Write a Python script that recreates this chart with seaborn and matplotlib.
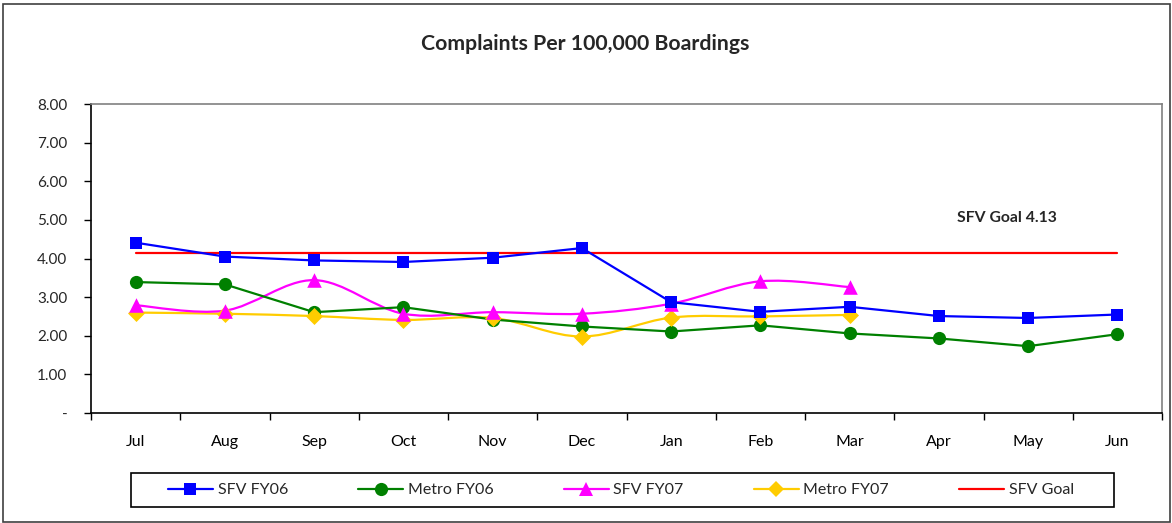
import numpy as np
import pandas as pd
import matplotlib
matplotlib.use("Agg")
import matplotlib.pyplot as plt
import seaborn as sns
from matplotlib.path import Path
from matplotlib.patches import PathPatch, Rectangle
from matplotlib.lines import Line2D

months = ["Jul", "Aug", "Sep", "Oct", "Nov", "Dec", "Jan", "Feb", "Mar", "Apr", "May", "Jun"]
sfv_fy06 = [4.41, 4.05, 3.95, 3.91, 4.02, 4.27, 2.87, 2.62, 2.75, 2.51, 2.46, 2.55]
metro_fy06 = [3.39, 3.33, 2.61, 2.74, 2.42, 2.24, 2.11, 2.27, 2.06, 1.93, 1.73, 2.04]
sfv_fy07 = [2.79, 2.65, 3.44, 2.57, 2.61, 2.57, 2.83, 3.41, 3.26]
metro_fy07 = [2.60, 2.57, 2.51, 2.41, 2.46, 1.98, 2.47, 2.50, 2.54]
sfv_goal = 4.13
yticks = [0, 1, 2, 3, 4, 5, 6, 7, 8]
ytick_labels = ["-", "1.00", "2.00", "3.00", "4.00", "5.00", "6.00", "7.00", "8.00"]
title = "Complaints Per 100,000 Boardings"
goal_label = "SFV Goal 4.13"

C_BLUE, C_GREEN, C_MAG, C_GOLD, C_RED = "#0000FF", "#008000", "#FF00FF", "#FFCC00", "#FF0000"

sns.set_theme(style="white")
plt.rcParams["font.family"] = ["Lato", "DejaVu Sans"]

W, H = 1172, 523
fig = plt.figure(figsize=(W / 100, H / 100), dpi=100)
ax = fig.add_axes([91 / W, 1 - 413 / H, (1162 - 91) / W, (413 - 104) / H])

x_idx = np.arange(len(months))
df06 = pd.DataFrame({"x": np.concatenate([x_idx, x_idx]),
                     "y": sfv_fy06 + metro_fy06,
                     "s": ["SFV FY06"] * 12 + ["Metro FY06"] * 12})
df07 = pd.DataFrame({"x": np.concatenate([x_idx[:9], x_idx[:9]]),
                     "y": sfv_fy07 + metro_fy07,
                     "s": ["SFV FY07"] * 9 + ["Metro FY07"] * 9})

# goal line
goal_df = pd.DataFrame({"x": [0, 11], "y": [sfv_goal, sfv_goal]})
sns.lineplot(data=goal_df, x="x", y="y", color=C_RED, lw=1.6, ax=ax, zorder=2)


def smooth_path(xs, ys):
    pts = np.column_stack([xs, ys]).astype(float)
    n = len(pts)
    verts = [pts[0]]
    codes = [Path.MOVETO]
    for i in range(n - 1):
        p0 = pts[i - 1] if i > 0 else pts[i]
        p1 = pts[i]
        p2 = pts[i + 1]
        p3 = pts[i + 2] if i + 2 < n else pts[i + 1]
        c1 = p1 + (p2 - p0) / 6.0
        c2 = p2 - (p3 - p1) / 6.0
        verts += [c1, c2, p2]
        codes += [Path.CURVE4] * 3
    return Path(verts, codes)


# smoothed FY07 lines
for vals, col in [(metro_fy07, C_GOLD), (sfv_fy07, C_MAG)]:
    ax.add_patch(PathPatch(smooth_path(x_idx[:len(vals)], vals), facecolor="none",
                           edgecolor=col, lw=1.6, zorder=3))

sns.lineplot(data=df06[df06.s == "Metro FY06"], x="x", y="y", color=C_GREEN, lw=1.6,
             marker="o", markersize=9.5, markeredgewidth=0, ax=ax, zorder=4)
sns.scatterplot(data=df07[df07.s == "Metro FY07"], x="x", y="y", color=C_GOLD,
                marker="D", s=75, linewidth=0, ax=ax, zorder=5)
sns.scatterplot(data=df07[df07.s == "SFV FY07"], x="x", y="y", color=C_MAG,
                marker="^", s=110, linewidth=0, ax=ax, zorder=5)
sns.lineplot(data=df06[df06.s == "SFV FY06"], x="x", y="y", color=C_BLUE, lw=1.6,
             marker="s", markersize=9, markeredgewidth=0, ax=ax, zorder=6)

ax.set_xlim(-0.5, 11.5)
ax.set_ylim(0, 8)
ax.set_xlabel("")
ax.set_ylabel("")
ax.set_xticks(x_idx)
ax.set_xticklabels(months, fontsize=11.5)
ax.set_xticks(np.arange(-0.5, 12, 1), minor=True)
ax.tick_params(axis="x", which="major", length=0, pad=16, colors="black")
ax.tick_params(axis="x", which="minor", length=5, width=1, color="black", direction="out", bottom=True)
ax.set_yticks(yticks)
ax.set_yticklabels(ytick_labels, fontsize=11)
ax.tick_params(axis="y", which="major", length=5, width=1, color="black", direction="out", left=True, pad=12)
ax.grid(False)
for side in ["left", "bottom"]:
    ax.spines[side].set_color("black")
    ax.spines[side].set_linewidth(1.2)
for side in ["top", "right"]:
    ax.spines[side].set_color("#808080")
    ax.spines[side].set_linewidth(1.2)

ax.text(9.76, 5.06, goal_label, fontsize=11.3, fontweight="bold", ha="center", va="center")
if ax.get_legend():
    ax.get_legend().remove()

fig.text(585 / W, 1 - 44 / H, title, fontsize=15.3, fontweight="bold", ha="center", va="center")

# legend
handles = [
    Line2D([], [], color=C_BLUE, lw=1.6, marker="s", markersize=9, markeredgewidth=0),
    Line2D([], [], color=C_GREEN, lw=1.6, marker="o", markersize=9.5, markeredgewidth=0),
    Line2D([], [], color=C_MAG, lw=1.6, marker="^", markersize=10, markeredgewidth=0),
    Line2D([], [], color=C_GOLD, lw=1.6, marker="D", markersize=8, markeredgewidth=0),
    Line2D([], [], color=C_RED, lw=1.6),
]
labels = ["SFV FY06", "Metro FY06", "SFV FY07", "Metro FY07", "SFV Goal"]
fig.legend(handles, labels, ncol=5, loc="center", bbox_to_anchor=(621 / W, 1 - 490 / H),
           frameon=False, fontsize=11.5, handlelength=2.8, handletextpad=0.3,
           columnspacing=4.4, borderpad=0.3)
fig.patches.append(Rectangle((131 / W, 1 - 507 / H), (1114 - 131) / W, 34 / H,
                             transform=fig.transFigure, fill=False, edgecolor="black", lw=1.2))
fig.patches.append(Rectangle((3 / W, 1 - 522 / H), (1170 - 3) / W, (522 - 4) / H,
                             transform=fig.transFigure, fill=False, edgecolor="#404040", lw=1.2))

fig.savefig("out.png", dpi=100, facecolor="white")
